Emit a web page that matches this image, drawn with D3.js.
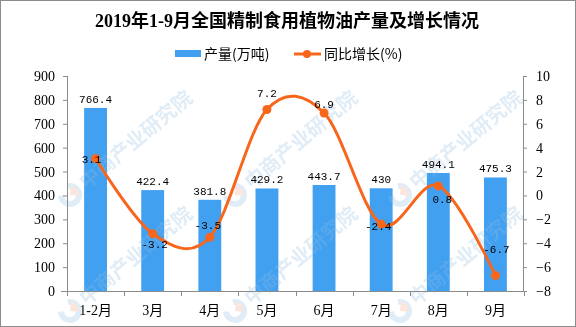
<!DOCTYPE html>
<html><head><meta charset="utf-8">
<script src="https://cdn.jsdelivr.net/npm/d3@7"></script>
<style>body{margin:0;background:#fff}svg{display:block}</style>
</head><body>
<svg id="c" width="576" height="327"></svg>
<script>
const categories = ["1-2月","3月","4月","5月","6月","7月","8月","9月"];
const output = [766.4, 422.4, 381.8, 429.2, 443.7, 430, 494.1, 475.3];
const growth = [3.1, -3.2, -3.5, 7.2, 6.9, -2.4, 0.8, -6.7];
const leftTicks = [0,100,200,300,400,500,600,700,800,900];
const rightTicks = [-8,-6,-4,-2,0,2,4,6,8,10];
const title = "2019年1-9月全国精制食用植物油产量及增长情况";
const legendNames = ["产量(万吨)", "同比增长(%)"];
const watermarkText = "中商产业研究院";
// label placement style for growth labels (dx, dy in px)
const growthLabelOffset = [[-4,1],[2,10],[-2,-12],[0,-16],[0,-9],[-3,2],[4,13],[1,-26]];

const W = 576, H = 327;
const svg = d3.select("#c");
const blue = "#42A0F0", orange = "#F8661C", axisCol = "#8c8c8c";
const numFont = "'Liberation Mono','DejaVu Sans Mono',monospace";
const serif = "'Liberation Serif','Noto Sans CJK SC',serif";
const cjk = "'Noto Sans CJK SC','Liberation Serif',sans-serif";

const plotL = 67, plotR = 524, plotT = 76, plotB = 291;
const x = d3.scaleBand().domain(categories).range([plotL, plotR]).paddingInner(0.6).paddingOuter(0.3);
const yL = d3.scaleLinear().domain([0, 900]).range([plotB, plotT]);
const yR = d3.scaleLinear().domain([-8, 10]).range([plotB, plotT]);

svg.append("rect").attr("x",0.5).attr("y",0.5).attr("width",W-1).attr("height",H-1)
  .attr("fill","#fff").attr("stroke","#8c8c8c");

// bars
svg.append("g").selectAll("rect").data(output).join("rect")
  .attr("x",(d,i)=>x(categories[i])).attr("width",x.bandwidth())
  .attr("y",d=>yL(d)).attr("height",d=>yL(0)-yL(d)).attr("fill",blue);

// watermark (only the copies that fit fully inside the picture)
const wm = svg.append("g").attr("opacity",0.28).attr("pointer-events","none");
[70,235,400].forEach(wx=>{
  [195,311].forEach(wy=>{
    const g = wm.append("g").attr("transform",`translate(${wx},${wy}) rotate(-40)`);
    g.append("path").attr("d", d3.arc()({innerRadius:6,outerRadius:12,startAngle:Math.PI*0.15,endAngle:Math.PI*1.7})).attr("fill","#8fbde3");
    g.append("path").attr("d", d3.arc()({innerRadius:0,outerRadius:9,startAngle:Math.PI*0.25,endAngle:Math.PI*0.75})).attr("fill","#f0a080");
    g.append("text").attr("x",16).attr("y",7).attr("font-family",cjk).attr("font-weight","bold")
      .attr("font-size",20).attr("fill","#8fbde3").text(watermarkText);
  });
});

// axes
const axL = svg.append("g").attr("transform",`translate(${plotL},0)`)
  .call(d3.axisLeft(yL).tickValues(leftTicks).tickSize(4).tickPadding(8));
const axR = svg.append("g").attr("transform",`translate(${plotR},0)`)
  .call(d3.axisRight(yR).tickValues(rightTicks).tickSize(3).tickPadding(9));
[axL, axR].forEach(a=>{
  a.select(".domain").attr("stroke",axisCol).attr("d", a===axL ? `M0.5,${plotT}V${plotB}` : `M-0.5,${plotT}V${plotB}`);
  a.selectAll(".tick line").attr("stroke",axisCol);
  a.selectAll("text").attr("font-family",serif).attr("font-size",14).attr("fill","#000");
});
const axB = svg.append("g").attr("transform",`translate(0,${plotB})`);
axB.append("line").attr("x1",plotL-6).attr("x2",plotR+3).attr("y1",0.5).attr("y2",0.5).attr("stroke",axisCol);
const step = x.step();
d3.range(categories.length+1).forEach(i=>{
  const tx = Math.round(plotL + i*step)+0.5;
  axB.append("line").attr("x1",tx).attr("x2",tx).attr("y1",0).attr("y2",5).attr("stroke",axisCol);
});
axB.selectAll("text").data(categories).join("text")
  .attr("x",d=>x(d)+x.bandwidth()/2).attr("y",24).attr("text-anchor","middle")
  .attr("font-family",serif).attr("font-size",14).attr("fill","#000").text(d=>d);

// bar labels
svg.append("g").selectAll("text").data(output).join("text")
  .attr("x",(d,i)=>x(categories[i])+x.bandwidth()/2).attr("y",d=>yL(d)-5)
  .attr("text-anchor","middle").attr("font-family",numFont).attr("font-size",11).attr("fill","#000")
  .text(d=>d);

// line
const cx = i => x(categories[i]) + x.bandwidth()/2;
const line = d3.line().x((d,i)=>cx(i)).y(d=>yR(d)).curve(d3.curveCardinal.tension(0));
svg.append("path").datum(growth).attr("d",line).attr("fill","none")
  .attr("stroke",orange).attr("stroke-width",3);
svg.append("g").selectAll("circle").data(growth).join("circle")
  .attr("cx",(d,i)=>cx(i)).attr("cy",d=>yR(d)).attr("r",4.5).attr("fill",orange);

// line labels
svg.append("g").selectAll("text").data(growth).join("text")
  .attr("x",(d,i)=>cx(i)+growthLabelOffset[i][0]).attr("y",(d,i)=>yR(d)+growthLabelOffset[i][1]+4)
  .attr("text-anchor","middle").attr("font-family",numFont).attr("font-size",11).attr("fill","#000")
  .text(d=>d);

// title
svg.append("text").attr("x",287).attr("y",27).attr("text-anchor","middle")
  .attr("font-family",serif).attr("font-weight","bold").attr("font-size",18).attr("fill","#000").text(title);

// legend
const lg = svg.append("g");
lg.append("rect").attr("x",175).attr("y",50).attr("width",26).attr("height",7).attr("fill",blue);
lg.append("text").attr("x",204).attr("y",59).attr("font-family",cjk).attr("font-size",14).attr("fill","#000").text(legendNames[0]);
lg.append("line").attr("x1",294).attr("x2",321).attr("y1",54).attr("y2",54).attr("stroke",orange).attr("stroke-width",3);
lg.append("circle").attr("cx",307).attr("cy",54).attr("r",4).attr("fill",orange);
lg.append("text").attr("x",324).attr("y",59).attr("font-family",cjk).attr("font-size",14).attr("fill","#000").text(legendNames[1]);
</script>
</body></html>
